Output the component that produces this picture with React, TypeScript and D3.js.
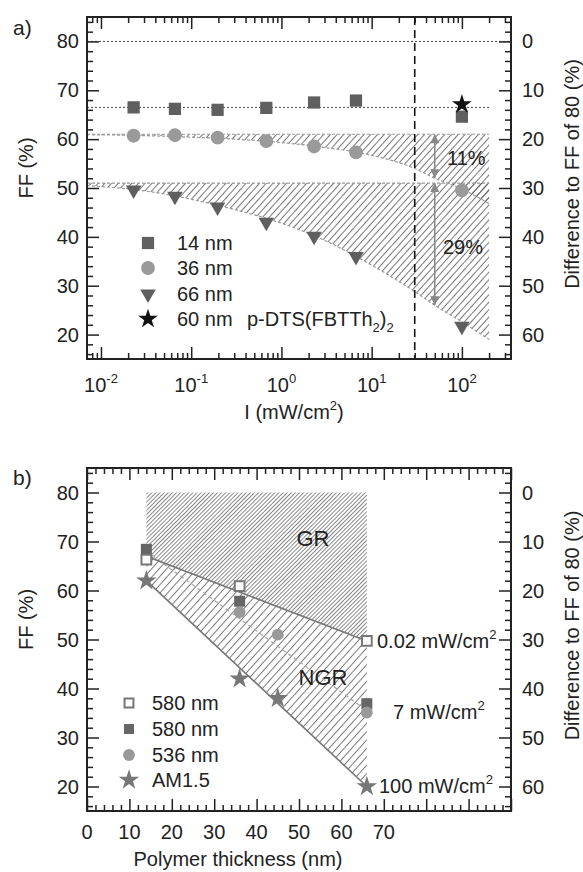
import React, { useEffect, useRef } from "react";
import * as d3 from "d3";

// panel a) FF vs light intensity
const intensity = [0.023, 0.066, 0.196, 0.68, 2.3, 6.7, 100];
const ff14nm = [66.5, 66.2, 66.0, 66.4, 67.5, 67.9, 64.6];
const ff36nm = [60.7, 60.8, 60.3, 59.6, 58.5, 57.3, 49.5];
const ff66nm = [49.6, 48.3, 46.1, 43.0, 40.1, 36.0, 21.7];
const starIntensity = [100];
const ffStar = [67.1];

// fitted curves
const fitIntensity = [0.007, 0.02, 0.05, 0.1, 0.3, 1, 3, 10, 30, 50, 100, 200];
const fit36nm = [60.9, 60.8, 60.6, 60.4, 60.0, 59.3, 58.3, 56.7, 54.0, 52.0, 49.8, 46.8];
const fit66nm = [50.5, 49.8, 48.8, 47.7, 45.6, 42.8, 39.3, 34.2, 28.8, 26.0, 22.6, 19.0];
const plateau36 = 61;
const plateau66 = 51;
const level14 = 66.5;
const cutoffIntensity = 30;
const arrowIntensity = 50;
const legendA = ["14 nm", "36 nm", "66 nm", "60 nm"];

// panel b) FF vs thickness
const thickness = [14, 36, 66];
const ffOpen580 = [66.3, 60.9, 49.7];
const ffFilled580 = [68.4, 57.8, 36.9];
const thickness536 = [36, 45, 66];
const ff536 = [55.6, 51.0, 35.1];
const thicknessAM = [14, 36, 45, 66];
const ffAM = [62.0, 42.0, 38.0, 20.0];
const lowLine = [67.0, 49.7]; // 0.02 mW/cm2 boundary at 14 and 66 nm
const amLine = [62.0, 20.0];
const line536 = [68.0, 35.5];
const legendB = ["580 nm", "580 nm", "536 nm", "AM1.5"];

const font = "'Liberation Sans', Arial, sans-serif";
const W = 583, H = 872;

const App = () => {
  const svgRef = useRef<SVGSVGElement>(null);

  useEffect(() => {
    const svg = d3.select(svgRef.current).html("");
    svg.attr("font-family", font);
    const left = 87, right = 511;
    const dark = "#222";

    const defs = svg.append("defs");
    const hatch = (id, spacing, angle, color, sw) => {
      const p = defs.append("pattern")
        .attr("id", id)
        .attr("patternUnits", "userSpaceOnUse")
        .attr("width", spacing)
        .attr("height", 10)
        .attr("patternTransform", `rotate(${angle})`);
      p.append("line").attr("x1", 0.5).attr("x2", 0.5).attr("y1", 0).attr("y2", 10)
        .attr("stroke", color).attr("stroke-width", sw);
    };
    hatch("hatchA", 5, 42, "#555", 0.8);
    hatch("hatchGR", 2.9, 45, "#555", 0.7);
    hatch("hatchNGR", 5.6, 42, "#555", 0.8);

    defs.append("marker")
      .attr("id", "arrowHead")
      .attr("viewBox", "0 0 10 10")
      .attr("refX", 10).attr("refY", 5)
      .attr("markerUnits", "userSpaceOnUse")
      .attr("markerWidth", 11).attr("markerHeight", 9)
      .attr("orient", "auto-start-reverse")
      .append("path").attr("d", "M0,0L10,5L0,10Z").attr("fill", "#888");

    const sym = (type, size) => d3.symbol().type(type).size(size)();

    // draws frame with inward ticks on all four sides
    const frame = (g, x, y, top, bottom, xMajor, xMinor) => {
      const yMajor = d3.range(20, 81, 10);
      const yMinor = d3.range(16, 85, 2).filter(v => v % 10 !== 0);
      const tk = (axis, vals, len, tx, ty) => {
        g.append("g")
          .attr("transform", `translate(${tx},${ty})`)
          .call(axis.tickValues(vals).tickSize(-len).tickSizeOuter(0).tickFormat(() => ""))
          .call(s => s.select(".domain").remove())
          .call(s => s.selectAll("line").attr("stroke", dark).attr("stroke-width", 1.5));
      };
      tk(d3.axisBottom(x), xMajor, 12, 0, bottom);
      tk(d3.axisBottom(x), xMinor, 6, 0, bottom);
      tk(d3.axisTop(x), xMajor, 12, 0, top);
      tk(d3.axisTop(x), xMinor, 6, 0, top);
      tk(d3.axisLeft(y), yMajor, 12, left, 0);
      tk(d3.axisLeft(y), yMinor, 6, left, 0);
      tk(d3.axisRight(y), yMajor, 12, right, 0);
      tk(d3.axisRight(y), yMinor, 6, right, 0);
      g.append("rect")
        .attr("x", left).attr("y", top)
        .attr("width", right - left).attr("height", bottom - top)
        .attr("fill", "none").attr("stroke", dark).attr("stroke-width", 2);

      yMajor.forEach(v => {
        g.append("text").attr("x", 79).attr("y", y(v) + 7)
          .attr("text-anchor", "end").attr("font-size", 20).attr("fill", dark).text(v);
        g.append("text").attr("x", 522).attr("y", y(v) + 7)
          .attr("font-size", 20).attr("fill", dark).text(80 - v);
      });
      const mid = top + (bottom - top) / 2;
      g.append("text")
        .attr("transform", `translate(33,${mid - 20}) rotate(-90)`)
        .attr("text-anchor", "middle").attr("font-size", 20).attr("fill", dark)
        .text("FF (%)");
      g.append("text")
        .attr("transform", `translate(579,${mid - 14}) rotate(-90)`)
        .attr("text-anchor", "middle").attr("font-size", 20).attr("fill", dark)
        .text("Difference to FF of 80 (%)");
    };

    // ---------- panel a ----------
    const xA = d3.scaleLog().domain([0.007, 350]).range([left, right]);
    const yA = d3.scaleLinear().domain([15, 85]).range([359, 17]);
    const gA = svg.append("g");

    const fitPts = (arr) => fitIntensity.map((v, i) => [v, arr[i]]);
    const area = (base) => d3.area()
      .x(d => xA(d[0])).y0(yA(base)).y1(d => yA(d[1]))
      .curve(d3.curveMonotoneX);
    const curve = d3.line().x(d => xA(d[0])).y(d => yA(d[1])).curve(d3.curveMonotoneX);

    gA.append("path").attr("d", area(plateau66)(fitPts(fit66nm))).attr("fill", "url(#hatchA)");
    gA.append("path").attr("d", area(plateau36)(fitPts(fit36nm))).attr("fill", "url(#hatchA)");
    [fit36nm, fit66nm].forEach(arr => {
      gA.append("path").attr("d", curve(fitPts(arr)))
        .attr("fill", "none").attr("stroke", "#999").attr("stroke-width", 1.2)
        .attr("stroke-dasharray", "3,2");
    });
    const xEnd = xA(200);
    [plateau36, plateau66].forEach(v => {
      gA.append("line").attr("x1", left).attr("x2", xEnd).attr("y1", yA(v)).attr("y2", yA(v))
        .attr("stroke", "#999").attr("stroke-width", 1.2).attr("stroke-dasharray", "3,2");
    });
    gA.append("line").attr("x1", left).attr("x2", right).attr("y1", yA(80)).attr("y2", yA(80))
      .attr("stroke", "#444").attr("stroke-width", 1).attr("stroke-dasharray", "2,2");
    gA.append("line").attr("x1", left).attr("x2", xEnd).attr("y1", yA(level14)).attr("y2", yA(level14))
      .attr("stroke", "#444").attr("stroke-width", 1).attr("stroke-dasharray", "2,2");
    gA.append("line").attr("x1", xA(cutoffIntensity)).attr("x2", xA(cutoffIntensity))
      .attr("y1", 17).attr("y2", 359)
      .attr("stroke", "#111").attr("stroke-width", 1.6).attr("stroke-dasharray", "8,5");

    // difference arrows
    const ai = fitIntensity.indexOf(arrowIntensity);
    [[plateau36, fit36nm[ai], "11%", 165, 447], [plateau66, fit66nm[ai], "29%", 254, 443]].forEach(([a, b, lab, ty, tx]) => {
      gA.append("line")
        .attr("x1", xA(arrowIntensity)).attr("x2", xA(arrowIntensity))
        .attr("y1", yA(a)).attr("y2", yA(b))
        .attr("stroke", "#888").attr("stroke-width", 1.5)
        .attr("marker-start", "url(#arrowHead)").attr("marker-end", "url(#arrowHead)");
      gA.append("text").attr("x", tx).attr("y", ty).attr("font-size", 20).attr("fill", dark).text(lab);
    });

    const majorA = [0.01, 0.1, 1, 10, 100];
    const minorA = [];
    [0.001, 0.01, 0.1, 1, 10, 100].forEach(d => {
      for (let k = 2; k <= 9; k++) {
        const v = k * d;
        if (v > 0.007 && v < 350) minorA.push(v);
      }
    });
    frame(gA, xA, yA, 17, 359, majorA, minorA);

    majorA.forEach(v => {
      const t = gA.append("text").attr("x", xA(v)).attr("y", 392)
        .attr("text-anchor", "middle").attr("font-size", 20).attr("fill", dark);
      t.append("tspan").text("10");
      t.append("tspan").attr("font-size", 13).attr("dy", -9).text(Math.round(Math.log10(v)));
    });
    const tA = gA.append("text").attr("x", 294).attr("y", 419)
      .attr("text-anchor", "middle").attr("font-size", 20).attr("fill", dark);
    tA.append("tspan").text("I (mW/cm");
    tA.append("tspan").attr("font-size", 13).attr("dy", -9).text("2");
    tA.append("tspan").attr("dy", 9).text(")");

    // data points
    const pts = (xs, ys) => xs.map((v, i) => [v, ys[i]]);
    const drawSym = (g, data, xs, ys, path, fill, rot = 0, stroke = "none", sw = 0) => {
      g.append("g").selectAll("path").data(data).enter().append("path")
        .attr("d", path)
        .attr("transform", d => `translate(${xs(d[0])},${ys(d[1])}) rotate(${rot})`)
        .attr("fill", fill).attr("stroke", stroke).attr("stroke-width", sw);
    };
    drawSym(gA, pts(intensity, ff36nm), xA, yA, sym(d3.symbolCircle, 150), "#9a9a9a");
    drawSym(gA, pts(intensity, ff66nm), xA, yA, sym(d3.symbolTriangle, 105), "#5f5f5f", 180);
    drawSym(gA, pts(intensity, ff14nm), xA, yA, sym(d3.symbolSquare, 150), "#5f5f5f");
    drawSym(gA, pts(starIntensity, ffStar), xA, yA, sym(d3.symbolStar, 120), "#111");

    const legA = [
      [sym(d3.symbolSquare, 150), "#5f5f5f", 0],
      [sym(d3.symbolCircle, 150), "#9a9a9a", 0],
      [sym(d3.symbolTriangle, 105), "#5f5f5f", 180],
      [sym(d3.symbolStar, 120), "#111", 0],
    ];
    const legAy = [243, 268, 294, 319];
    legA.forEach(([p, c, r], i) => {
      gA.append("path").attr("d", p).attr("fill", c)
        .attr("transform", `translate(148,${legAy[i]}) rotate(${r})`);
      gA.append("text").attr("x", 177).attr("y", legAy[i] + 7)
        .attr("font-size", 20).attr("fill", dark).text(legendA[i]);
    });
    const comp = gA.append("text").attr("x", 247).attr("y", legAy[3] + 7)
      .attr("font-size", 20).attr("fill", dark);
    comp.append("tspan").text("p-DTS(FBTTh");
    comp.append("tspan").attr("font-size", 13).attr("dy", 6).text("2");
    comp.append("tspan").attr("dy", -6).text(")");
    comp.append("tspan").attr("font-size", 13).attr("dy", 6).text("2");

    gA.append("text").attr("x", 13).attr("y", 35).attr("font-size", 21).attr("fill", dark).text("a)");

    // ---------- panel b ----------
    const xB = d3.scaleLinear().domain([0, 100]).range([left, right]);
    const yB = d3.scaleLinear().domain([15, 85]).range([811, 468]);
    const gB = svg.append("g");
    const t0 = thickness[0], t1 = thickness[2];

    const gr = [[t0, 80], [t1, 80], [t1, lowLine[1]], [t0, lowLine[0]]];
    const ngr = [[t0, lowLine[0]], [t1, lowLine[1]], [t1, amLine[1]], [t0, amLine[0]]];
    const poly = d3.line().x(d => xB(d[0])).y(d => yB(d[1]));
    gB.append("path").attr("d", poly(gr) + "Z").attr("fill", "url(#hatchGR)");
    gB.append("path").attr("d", poly(ngr) + "Z").attr("fill", "url(#hatchNGR)");
    gB.append("path").attr("d", poly([[t0, line536[0]], [t1, line536[1]]]))
      .attr("stroke", "#aaa").attr("stroke-width", 1.3).attr("stroke-dasharray", "4,3").attr("fill", "none");
    gB.append("path").attr("d", poly([[t0, lowLine[0]], [t1, lowLine[1]]]))
      .attr("stroke", "#777").attr("stroke-width", 1.6).attr("fill", "none");
    gB.append("path").attr("d", poly([[t0, amLine[0]], [t1, amLine[1]]]))
      .attr("stroke", "#777").attr("stroke-width", 1.6).attr("fill", "none");

    frame(gB, xB, yB, 468, 811, d3.range(0, 101, 10), d3.range(2, 100, 2).filter(v => v % 10 !== 0));
    d3.range(0, 71, 10).forEach(v => {
      gB.append("text").attr("x", xB(v)).attr("y", 839).attr("text-anchor", "middle")
        .attr("font-size", 20).attr("fill", dark).text(v);
    });
    gB.append("text").attr("x", 238).attr("y", 866).attr("text-anchor", "middle")
      .attr("font-size", 20).attr("fill", dark).text("Polymer thickness (nm)");

    drawSym(gB, pts(thickness, ffFilled580), xB, yB, sym(d3.symbolSquare, 121), "#666");
    drawSym(gB, pts(thickness536, ff536), xB, yB, sym(d3.symbolCircle, 110), "#999");
    drawSym(gB, pts(thickness, ffOpen580), xB, yB, sym(d3.symbolSquare, 95), "#fff", 0, "#777", 2);
    drawSym(gB, pts(thicknessAM, ffAM), xB, yB, sym(d3.symbolStar, 130), "#777");

    const legB = [
      [sym(d3.symbolSquare, 80), "#fff", "#777", 2],
      [sym(d3.symbolSquare, 100), "#666", "none", 0],
      [sym(d3.symbolCircle, 110), "#999", "none", 0],
      [sym(d3.symbolStar, 130), "#777", "none", 0],
    ];
    const legBy = [703, 729, 755, 780];
    legB.forEach(([p, c, s, sw], i) => {
      gB.append("path").attr("d", p).attr("fill", c).attr("stroke", s).attr("stroke-width", sw)
        .attr("transform", `translate(129,${legBy[i]})`);
      gB.append("text").attr("x", 152).attr("y", legBy[i] + 7)
        .attr("font-size", 20).attr("fill", dark).text(legendB[i]);
    });

    const unitLabel = (x, y, txt) => {
      const t = gB.append("text").attr("x", x).attr("y", y).attr("font-size", 20).attr("fill", dark);
      t.append("tspan").text(txt);
      t.append("tspan").attr("font-size", 13).attr("dy", -9).text("2");
    };
    unitLabel(377, 648, "0.02 mW/cm");
    unitLabel(393, 719, "7 mW/cm");
    unitLabel(379, 793, "100 mW/cm");

    gB.append("text").attr("x", 313).attr("y", 546).attr("text-anchor", "middle")
      .attr("font-size", 22).attr("fill", dark).text("GR");
    gB.append("text").attr("x", 323).attr("y", 685).attr("text-anchor", "middle")
      .attr("font-size", 22).attr("fill", dark).text("NGR");
    gB.append("text").attr("x", 13).attr("y", 485).attr("font-size", 21).attr("fill", dark).text("b)");
  }, []);

  return (
    <svg ref={svgRef} width={W} height={H}
      style={{ position: "absolute", left: 0, top: 0, background: "#fff" }} />
  );
};

export default App;
